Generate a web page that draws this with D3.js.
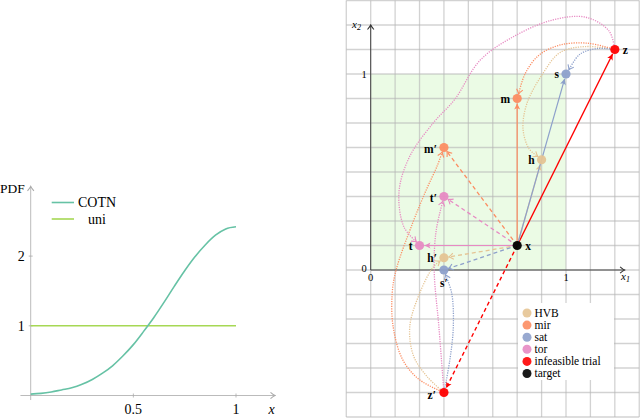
<!DOCTYPE html>
<meta charset="utf-8">
<head>
<script src="https://cdn.jsdelivr.net/npm/d3@7"></script>
</head>
<style>
body { margin: 0; background: #fff; }
text { font-family: "Liberation Serif", "DejaVu Serif", serif; }
</style>
<body></body>
<script>
// ---- left panel: densities ----
var pdfX = [0, 0.05, 0.1, 0.15, 0.2, 0.25, 0.3, 0.35, 0.4, 0.45, 0.5,
            0.55, 0.6, 0.65, 0.7, 0.75, 0.8, 0.85, 0.9, 0.95, 1];
var cotn = [0.02, 0.03, 0.05, 0.08, 0.11, 0.16, 0.23, 0.32, 0.43, 0.57, 0.73,
            0.92, 1.12, 1.34, 1.57, 1.79, 1.99, 2.16, 2.30, 2.39, 2.42];
var uniX = [0, 1];
var uni = [1, 1];
var leftXTicks = [0.5, 1];
var leftYTicks = [1, 2];

// ---- right panel: repair of an infeasible trial ----
var methods = ["HVB", "mir", "sat", "tor"];
var methodColor = ["#e5c494", "#fc8d62", "#8da0cb", "#e78ac3"];
var target = [0.75, 0.125];
var trialZ = [1.25, 1.125];
var trialZp = [0.375, -0.625];
var namesZ = ["h", "m", "s", "t"];
var repairedZ = [[0.875, 0.5625], [0.75, 0.875], [1, 1], [0.25, 0.125]];
var namesZp = ["h\u2032", "m\u2032", "s\u2032", "t\u2032"];
var repairedZp = [[0.375, 0.0625], [0.375, 0.625], [0.375, 0], [0.375, 0.375]];
// dotted paths z -> repaired point (intermediate points)
var viaZ = [
  [[1.1, 1.14], [0.97, 1.11], [0.88, 1.0], [0.8, 0.85], [0.78, 0.72], [0.81, 0.62]],
  [[1.11, 1.157], [0.97, 1.148], [0.86, 1.095], [0.79, 1.0]],
  [[1.16, 1.13], [1.07, 1.1]],
  [[1.22, 1.22], [1.1, 1.29], [0.93, 1.275], [0.73, 1.19], [0.56, 1.07], [0.43, 0.87],
   [0.32, 0.75], [0.2, 0.58], [0.145, 0.4], [0.17, 0.22]]
];
var viaZp = [
  [[0.29, -0.545], [0.22, -0.44], [0.2, -0.29], [0.25, -0.12], [0.32, 0.015]],
  [[0.25, -0.56], [0.165, -0.46], [0.115, -0.29], [0.11, -0.12], [0.13, 0],
   [0.215, 0.24], [0.285, 0.41], [0.34, 0.53]],
  [[0.405, -0.46], [0.423, -0.29], [0.415, -0.12]],
  [[0.35, -0.3], [0.325, 0], [0.335, 0.2]]
];
var legendLabels = ["HVB", "mir", "sat", "tor", "infeasible trial", "target"];
var legendColors = ["#e5c494", "#fc8d62", "#8da0cb", "#e78ac3", "#ff0000", "#000000"];

var svg = d3.select("body").append("svg")
    .attr("width", 640)
    .attr("height", 418);
var defs = svg.append("defs");

function marker(id, color, filled) {
  var m = defs.append("marker").attr("id", id)
      .attr("viewBox", "-7 -5 8 10").attr("refX", 0).attr("refY", 0)
      .attr("markerWidth", 8).attr("markerHeight", 10)
      .attr("markerUnits", "userSpaceOnUse").attr("orient", "auto");
  if (filled)
    m.append("path").attr("d", "M-6,-3 L0,0 L-6,3 L-4.5,0 Z").attr("fill", color);
  else
    m.append("path").attr("d", "M-4.5,-3.2 Q-1.6,-0.7 0,0 Q-1.6,0.7 -4.5,3.2")
      .attr("fill", "none").attr("stroke", color).attr("stroke-width", 1.1);
}
methodColor.forEach(function(c, i) {
  marker("to" + i, c, false);
  marker("tri" + i, c, true);
});
marker("toRed", "#ff0000", true);
marker("axisL", "#aaa", false);
marker("axisR", "#333", false);

// ===== left panel =====
var lx = d3.scaleLinear().domain([0, 1]).range([30.7, 236]);
var ly = d3.scaleLinear().domain([0, 1]).range([395.5, 325.8]);
var left = svg.append("g");

left.append("line")
    .attr("x1", lx(-0.05)).attr("x2", lx(1.19))
    .attr("y1", ly(0)).attr("y2", ly(0))
    .attr("stroke", "#aaa").attr("stroke-width", 0.8)
    .attr("marker-end", "url(#axisL)");
left.append("line")
    .attr("x1", lx(0)).attr("x2", lx(0))
    .attr("y1", ly(-0.065)).attr("y2", ly(3.0))
    .attr("stroke", "#aaa").attr("stroke-width", 0.8)
    .attr("marker-end", "url(#axisL)");

leftXTicks.forEach(function(t) {
  left.append("line").attr("x1", lx(t)).attr("x2", lx(t))
      .attr("y1", ly(0) - 2).attr("y2", ly(0) + 2).attr("stroke", "#aaa").attr("stroke-width", 0.8);
  left.append("text").attr("x", lx(t)).attr("y", ly(0) + 18)
      .attr("text-anchor", "middle").attr("font-size", 14).text(t);
});
leftYTicks.forEach(function(t) {
  left.append("line").attr("x1", lx(0) - 2).attr("x2", lx(0) + 2)
      .attr("y1", ly(t)).attr("y2", ly(t)).attr("stroke", "#aaa").attr("stroke-width", 0.8);
  left.append("text").attr("x", lx(0) - 6).attr("y", ly(t)).attr("dy", "0.35em")
      .attr("text-anchor", "end").attr("font-size", 14).text(t);
});
left.append("text").attr("x", 271.5).attr("y", ly(0) + 18)
    .attr("text-anchor", "middle").attr("font-size", 14).attr("font-style", "italic").text("x");
left.append("text").attr("x", 0).attr("y", 193)
    .attr("font-size", 13.5).text("PDF");

var line = d3.line()
    .x(function(d) { return lx(d[0]); })
    .y(function(d) { return ly(d[1]); })
    .curve(d3.curveMonotoneX);

left.append("path")
    .attr("d", line(uniX.map(function(x, i) { return [x, uni[i]]; })))
    .attr("fill", "none").attr("stroke", "#a6d854").attr("stroke-width", 1.6);
left.append("path")
    .attr("d", line(pdfX.map(function(x, i) { return [x, cotn[i]]; })))
    .attr("fill", "none").attr("stroke", "#66c2a5").attr("stroke-width", 1.6);

// legend
[["COTN", "#66c2a5", 202.5], ["uni", "#a6d854", 219]].forEach(function(d) {
  left.append("line").attr("x1", 51.7).attr("x2", 74).attr("y1", d[2]).attr("y2", d[2])
      .attr("stroke", d[1]).attr("stroke-width", 1.6);
  left.append("text").attr("x", 97).attr("y", d[2]).attr("dy", "0.35em")
      .attr("text-anchor", "middle").attr("font-size", 14).text(d[0]);
});

// ===== right panel =====
var rx = d3.scaleLinear().domain([0, 1]).range([370.7, 566]);
var ry = d3.scaleLinear().domain([0, 1]).range([270, 74]);
var right = svg.append("g");

right.append("rect")
    .attr("x", rx(0)).attr("y", ry(1))
    .attr("width", rx(1) - rx(0)).attr("height", ry(0) - ry(1))
    .attr("fill", "#ebfbe5");

var gx = d3.range(-1, 12).map(function(i) { return i * 0.125; });
var gy = d3.range(-6, 12).map(function(i) { return i * 0.125; });
gx.forEach(function(v) {
  right.append("line").attr("x1", rx(v)).attr("x2", rx(v))
      .attr("y1", ry(gy[gy.length - 1])).attr("y2", ry(gy[0]))
      .attr("stroke", "#b4b4b4").attr("stroke-opacity", 0.6).attr("stroke-width", 1.3);
});
gy.forEach(function(v) {
  right.append("line").attr("y1", ry(v)).attr("y2", ry(v))
      .attr("x1", rx(gx[0])).attr("x2", rx(gx[gx.length - 1]))
      .attr("stroke", "#b4b4b4").attr("stroke-opacity", 0.6).attr("stroke-width", 1.3);
});

// axes
right.append("line").attr("x1", rx(0)).attr("x2", rx(1.3))
    .attr("y1", ry(0)).attr("y2", ry(0))
    .attr("stroke", "#333").attr("stroke-width", 0.9).attr("marker-end", "url(#axisR)");
right.append("line").attr("x1", rx(0)).attr("x2", rx(0))
    .attr("y1", ry(0)).attr("y2", ry(1.25))
    .attr("stroke", "#333").attr("stroke-width", 0.9).attr("marker-end", "url(#axisR)");
[0, 1].forEach(function(t) {
  right.append("text").attr("x", rx(t)).attr("y", ry(0) + 11)
      .attr("text-anchor", "middle").attr("font-size", 10.5).text(t);
  right.append("text").attr("x", rx(0) - 4).attr("y", ry(t) - (t === 0 ? 2 : 0)).attr("dy", "0.35em")
      .attr("text-anchor", "end").attr("font-size", 10.5).text(t);
});
var xl = right.append("text").attr("x", 621).attr("y", ry(0) + 10)
    .attr("font-size", 11).attr("font-style", "italic");
xl.append("tspan").text("x");
xl.append("tspan").attr("font-size", 8).attr("dy", 2).text("1");
var yl = right.append("text").attr("x", 352).attr("y", ry(1.25) + 3)
    .attr("font-size", 11).attr("font-style", "italic");
yl.append("tspan").text("x");
yl.append("tspan").attr("font-size", 8).attr("dy", 2).text("2");

// legend box
right.append("rect").attr("x", 518).attr("y", 303).attr("width", 96).attr("height", 77)
    .attr("fill", "#fff");
legendLabels.forEach(function(l, i) {
  var y = 313 + i * 12.1;
  right.append("circle").attr("cx", 527).attr("cy", y).attr("r", 4.5)
      .attr("fill", legendColors[i]).attr("fill-opacity", 0.9);
  right.append("text").attr("x", 534.5).attr("y", y).attr("dy", "0.32em")
      .attr("font-size", 11.5).text(l);
});

function px(p) { return [rx(p[0]), ry(p[1])]; }
function trimEnd(pts, r) {
  var n = pts.length, a = pts[n - 2], b = pts[n - 1];
  var dx = b[0] - a[0], dy = b[1] - a[1], L = Math.hypot(dx, dy);
  pts[n - 1] = [b[0] - dx / L * r, b[1] - dy / L * r];
  return pts;
}
var curve = d3.line().curve(d3.curveCatmullRom.alpha(0.5));
var straight = d3.line();

// red trial lines
right.append("path").attr("d", straight(trimEnd([px(target), px(trialZ)], 5)))
    .attr("stroke", "#ff0000").attr("stroke-width", 1.4).attr("fill", "none")
    .attr("marker-end", "url(#toRed)");
right.append("path").attr("d", straight(trimEnd([px(target), px(trialZp)], 5)))
    .attr("stroke", "#ff0000").attr("stroke-width", 1.4).attr("fill", "none")
    .attr("stroke-dasharray", "4,3").attr("marker-end", "url(#toRed)");

methods.forEach(function(m, i) {
  var c = methodColor[i];
  // solid: target -> repaired point of z
  right.append("path").attr("d", straight(trimEnd([px(target), px(repairedZ[i])], 5)))
      .attr("stroke", c).attr("stroke-width", 1.2).attr("fill", "none")
      .attr("marker-end", "url(#tri" + i + ")");
  // dashed: target -> repaired point of z'
  right.append("path").attr("d", straight(trimEnd([px(target), px(repairedZp[i])], 5)))
      .attr("stroke", c).attr("stroke-width", 1.3).attr("fill", "none")
      .attr("stroke-dasharray", "4,3").attr("marker-end", "url(#to" + i + ")");
  // dotted: z -> repaired, z' -> repaired
  var p1 = [trialZ].concat(viaZ[i], [repairedZ[i]]).map(px);
  right.append("path").attr("d", curve(trimEnd(p1, 5)))
      .attr("stroke", c).attr("stroke-width", 1.3).attr("fill", "none")
      .attr("stroke-dasharray", "1.2,1.2").attr("marker-end", "url(#to" + i + ")");
  var p2 = [trialZp].concat(viaZp[i], [repairedZp[i]]).map(px);
  right.append("path").attr("d", curve(trimEnd(p2, 5)))
      .attr("stroke", c).attr("stroke-width", 1.3).attr("fill", "none")
      .attr("stroke-dasharray", "1.2,1.2").attr("marker-end", "url(#to" + i + ")");
});

// points
function dot(p, color) {
  right.append("circle").attr("cx", rx(p[0])).attr("cy", ry(p[1])).attr("r", 4.6)
      .attr("fill", color).attr("fill-opacity", 0.95);
}
function label(p, txt, dx, dy, anchor) {
  right.append("text").attr("x", rx(p[0]) + dx).attr("y", ry(p[1]) + dy).attr("dy", "0.35em")
      .attr("text-anchor", anchor).attr("font-size", 11.5).attr("font-weight", "bold").text(txt);
}
methods.forEach(function(m, i) {
  dot(repairedZ[i], methodColor[i]);
  dot(repairedZp[i], methodColor[i]);
});
dot(trialZ, "#ff0000");
dot(trialZp, "#ff0000");
dot(target, "#000");

label(trialZ, "z", 8, 0, "start");
label(trialZp, "z\u2032", -8, 2, "end");
label(target, "x", 8, 0, "start");
label(repairedZ[0], "h", -7, 0, "end");
label(repairedZ[1], "m", -7, 0, "end");
label(repairedZ[2], "s", -7, 0, "end");
label(repairedZ[3], "t", -7, 0, "end");
label(repairedZp[0], "h\u2032", -7, 0, "end");
label(repairedZp[1], "m\u2032", -7, 1, "end");
label(repairedZp[2], "s\u2032", 0, 13, "middle");
label(repairedZp[3], "t\u2032", -7, 1, "end");
</script>
